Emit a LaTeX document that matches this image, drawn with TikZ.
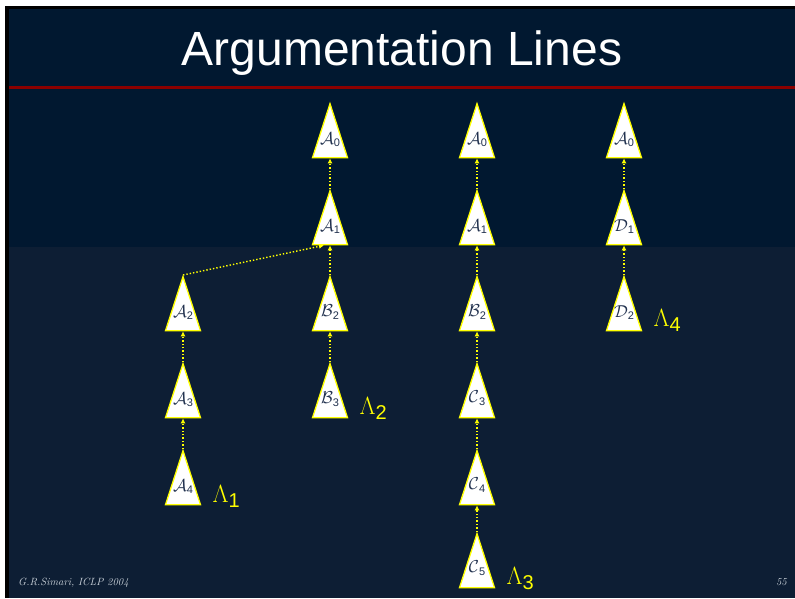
\documentclass[tikz,border=0pt]{standalone}
\usepackage{fontspec}
\setsansfont{Liberation Sans}
\usetikzlibrary{arrows.meta,shapes.geometric,positioning}
\definecolor{navyTop}{RGB}{1,24,48}
\definecolor{navyLow}{RGB}{13,30,52}
\definecolor{argYellow}{HTML}{FFFF00}
\definecolor{argText}{HTML}{22324F}
\definecolor{ruleRed}{HTML}{8B0000}
\definecolor{footGray}{HTML}{C8D0D8}
\newcommand{\argname}[2]{\raisebox{8pt}[0pt][0pt]{$\mathcal{#1}$\raisebox{-2.5pt}{\fontsize{11}{11}\selectfont\sffamily #2}}}
\newcommand{\linename}[1]{{\fontsize{27}{27}\selectfont$\Lambda$}\raisebox{-5pt}{\fontsize{20}{20}\selectfont\sffamily #1}}

\begin{document}
\begin{tikzpicture}[x=1pt,y=-1pt,
  argtri/.style={isosceles triangle, isosceles triangle stretches, shape border rotate=90,
    draw=argYellow, fill=white, line width=1.3pt, minimum width=35pt, minimum height=54pt,
    inner sep=0pt, text=argText, font=\fontsize{16}{16}\selectfont, anchor=apex},
  attack/.style={argYellow, dotted, line width=1.4pt, -{Latex[length=5pt,width=5pt]}},
  linelabel/.style={argYellow, anchor=base west, inner sep=0pt}]

  % background
  \useasboundingbox (0,0) rectangle (795,598);
  \fill[white] (0,0) rectangle (795,598);
  \fill[black] (5,6) rectangle (795,598);
  \fill[navyTop] (9,9) rectangle (795,247);
  \fill[navyLow] (9,247) rectangle (795,598);
  \draw[ruleRed, line width=3pt] (9,87) -- (795,87);

  \node[white, font=\sffamily\fontsize{48}{48}\selectfont, anchor=base] (title) at (402,65) {Argumentation Lines};

  % line 1
  \node[argtri] (a2) at (183,275) {\argname{A}{2}};
  \node[argtri] (a3) at (183,362) {\argname{A}{3}};
  \node[argtri] (a4) at (183,449) {\argname{A}{4}};

  % line 2
  \node[argtri] (l2a0) at (330,102) {\argname{A}{0}};
  \node[argtri] (l2a1) at (330,189) {\argname{A}{1}};
  \node[argtri] (l2b2) at (330,275) {\argname{B}{2}};
  \node[argtri] (l2b3) at (330,362) {\argname{B}{3}};

  % line 3
  \node[argtri] (l3a0) at (477,102) {\argname{A}{0}};
  \node[argtri] (l3a1) at (477,189) {\argname{A}{1}};
  \node[argtri] (l3b2) at (477,275) {\argname{B}{2}};
  \node[argtri] (l3c3) at (477,362) {\argname{C}{3}};
  \node[argtri] (l3c4) at (477,449) {\argname{C}{4}};
  \node[argtri] (l3c5) at (477,532) {\argname{C}{5}};

  % line 4
  \node[argtri] (l4a0) at (624,102) {\argname{A}{0}};
  \node[argtri] (l4d1) at (624,189) {\argname{D}{1}};
  \node[argtri] (l4d2) at (624,275) {\argname{D}{2}};

  % attacks
  \draw[attack] (a4.apex) -- (a3.lower side);
  \draw[attack] (a3.apex) -- (a2.lower side);
  \draw[attack] (a2.apex) -- ([xshift=-6pt]l2a1.lower side);
  \draw[attack] (l2b3.apex) -- (l2b2.lower side);
  \draw[attack] (l2b2.apex) -- (l2a1.lower side);
  \draw[attack] (l2a1.apex) -- (l2a0.lower side);
  \draw[attack] (l3c5.apex) -- (l3c4.lower side);
  \draw[attack] (l3c4.apex) -- (l3c3.lower side);
  \draw[attack] (l3c3.apex) -- (l3b2.lower side);
  \draw[attack] (l3b2.apex) -- (l3a1.lower side);
  \draw[attack] (l3a1.apex) -- (l3a0.lower side);
  \draw[attack] (l4d2.apex) -- (l4d1.lower side);
  \draw[attack] (l4d1.apex) -- (l4a0.lower side);

  % line names
  \node[linelabel] (lam1) at ([xshift=11pt,yshift=3pt]a4.right corner) {\linename{1}};
  \node[linelabel] (lam2) at ([xshift=11pt,yshift=4pt]l2b3.right corner) {\linename{2}};
  \node[linelabel] (lam3) at ([xshift=11pt,yshift=4pt]l3c5.right corner) {\linename{3}};
  \node[linelabel] (lam4) at ([xshift=11pt,yshift=5pt]l4d2.right corner) {\linename{4}};

  % footer
  \node[footGray, anchor=base west, inner sep=0pt, font=\itshape\fontsize{10.5}{10.5}\selectfont] (author) at (18,585) {G.R.Simari, ICLP 2004};
  \node[footGray, anchor=base east, inner sep=0pt, font=\itshape\fontsize{10.5}{10.5}\selectfont] (page) at (787,585) {55};
\end{tikzpicture}
\end{document}
